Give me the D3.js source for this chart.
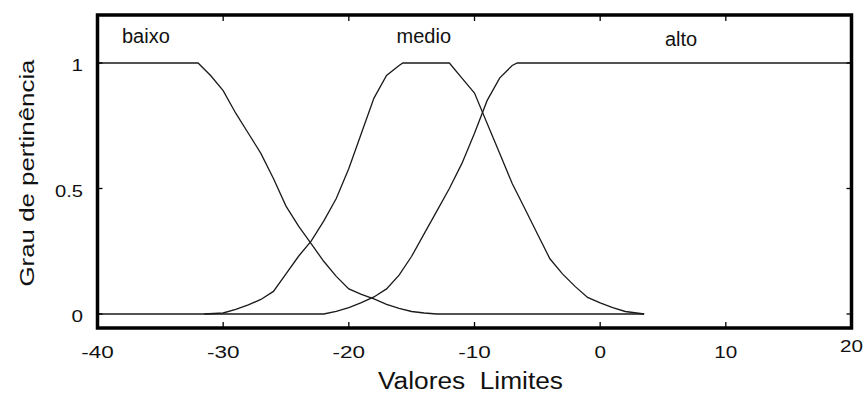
<!DOCTYPE html>
<html lang="pt">
<head>
<meta charset="UTF-8">
<title>Grau de pertinência</title>
<script src="https://cdn.jsdelivr.net/npm/d3@7"></script>
<style>
  body { margin: 0; background: #fff; }
  svg text { font-family: "Liberation Sans", Arial, sans-serif; fill: #111; }
  .curve { fill: none; stroke: #1a1a1a; stroke-width: 1.3; }
  .frame { fill: none; stroke: #000; stroke-width: 3.5; }
  .tick { stroke: #000; stroke-width: 1.3; }
</style>
</head>
<body>
<svg id="chart" width="868" height="394"></svg>
<script>
// x ticks / y ticks
var xTicks = [-40, -30, -20, -10, 0, 10, 20];
var yTicks = [0, 0.5, 1];

// membership functions
var baixo = [[-40,1],[-32,1],[-31,0.95],[-30,0.89],[-29,0.8],[-28,0.72],[-27,0.64],[-26,0.54],
  [-25,0.43],[-24,0.35],[-23,0.28],[-22,0.21],[-21,0.15],[-20,0.1],[-19,0.078],[-18,0.06],
  [-17,0.038],[-16,0.022],[-15,0.01],[-14,0.004],[-13,0],[3.5,0]];
var medio = [[-31.5,0],[-30,0.004],[-29,0.018],[-28,0.036],[-27,0.058],[-26,0.09],[-25,0.16],
  [-24,0.23],[-23,0.29],[-22,0.37],[-21,0.46],[-20,0.58],[-19,0.72],[-18,0.86],[-17,0.95],
  [-16,0.99],[-15.7,1],[-12,1],[-11,0.94],[-10,0.88],[-9,0.76],[-8,0.64],[-7,0.52],
  [-6,0.42],[-5,0.32],[-4,0.22],[-3,0.16],[-2,0.11],[-1,0.066],[0,0.044],[1,0.025],
  [2,0.01],[3.5,0]];
var alto = [[-40,0],[-22,0],[-21,0.01],[-20,0.025],[-19,0.045],[-18,0.068],[-17,0.1],
  [-16,0.155],[-15,0.23],[-14,0.32],[-13,0.41],[-12,0.5],[-11,0.6],[-10,0.72],[-9,0.85],
  [-8,0.94],[-7,0.99],[-6.6,1],[20,1]];
var curveNames = ["baixo", "medio", "alto"];
var labelPos = [[-38.05, 1.08], [-16.2, 1.08], [5.15, 1.068]];

var svg = d3.select("#chart");
var x = d3.scaleLinear().domain([-40, 20]).range([97.5, 851.5]);
var y = d3.scaleLinear().domain([0, 1]).range([314, 63]);
var frameTop = 15, frameBottom = 328;

var line = d3.line().x(function(d){ return x(d[0]); }).y(function(d){ return y(d[1]); });

[baixo, medio, alto].forEach(function(c) {
  svg.append("path").attr("class", "curve").attr("d", line(c));
});

// frame
svg.append("rect").attr("class", "frame")
  .attr("x", x(-40)).attr("y", frameTop)
  .attr("width", x(20) - x(-40)).attr("height", frameBottom - frameTop);

// inward ticks
xTicks.slice(1, -1).forEach(function(t) {
  svg.append("line").attr("class", "tick").attr("x1", x(t)).attr("x2", x(t)).attr("y1", frameTop).attr("y2", frameTop + 6);
  svg.append("line").attr("class", "tick").attr("x1", x(t)).attr("x2", x(t)).attr("y1", frameBottom).attr("y2", frameBottom - 6);
});
yTicks.forEach(function(t) {
  svg.append("line").attr("class", "tick").attr("x1", x(-40)).attr("x2", x(-40) + 5).attr("y1", y(t)).attr("y2", y(t));
  svg.append("line").attr("class", "tick").attr("x1", x(20)).attr("x2", x(20) - 5).attr("y1", y(t)).attr("y2", y(t));
});

// the old bitmap font is wider than Liberation Sans
function labelWidth(s) {
  var w = 0;
  String(s).split("").forEach(function(ch) { w += ch === "-" ? 9.5 : ch === "." ? 5 : 11.5; });
  return w;
}

// tick labels
svg.selectAll(".xl").data(xTicks).enter().append("text")
  .attr("x", function(d){ return x(d); })
  .attr("y", function(d, i){ return i === xTicks.length - 1 ? 352 : 358; })
  .attr("text-anchor", "middle").style("font-size", "16.5px")
  .attr("textLength", labelWidth).attr("lengthAdjust", "spacingAndGlyphs")
  .text(function(d){ return d; });
svg.selectAll(".yl").data(yTicks).enter().append("text")
  .attr("x", 83).attr("y", function(d){ return y(d) + 8; })
  .attr("text-anchor", "end").style("font-size", "16.5px")
  .attr("textLength", labelWidth).attr("lengthAdjust", "spacingAndGlyphs")
  .text(function(d){ return d; });

// curve names
svg.selectAll(".cn").data(curveNames).enter().append("text")
  .attr("x", function(d, i){ return x(labelPos[i][0]); })
  .attr("y", function(d, i){ return y(labelPos[i][1]); })
  .style("font-size", "20px")
  .text(function(d){ return d; });

// axis titles
svg.append("text").attr("x", 470.5).attr("y", 389).attr("text-anchor", "middle")
  .style("font-size", "23px").attr("xml:space", "preserve")
  .attr("textLength", 185).attr("lengthAdjust", "spacingAndGlyphs")
  .text("Valores  Limites");
svg.append("text").attr("transform", "translate(34,173) rotate(-90)").attr("text-anchor", "middle")
  .style("font-size", "21px")
  .attr("textLength", 227).attr("lengthAdjust", "spacingAndGlyphs")
  .text("Grau de pertinência");
</script>
</body>
</html>
